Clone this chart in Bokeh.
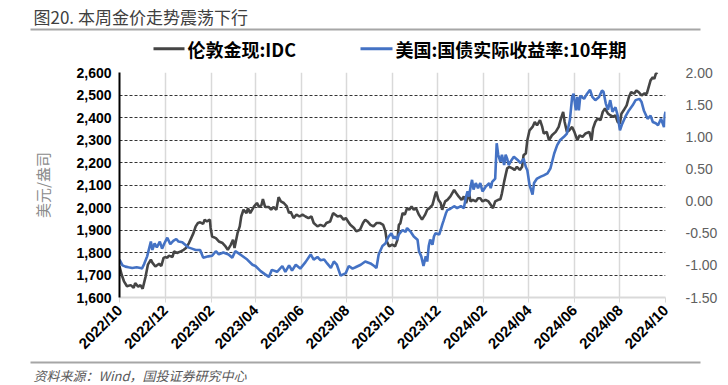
import math
from datetime import datetime
import pandas as pd
from bokeh.plotting import figure
from bokeh.models import (Range1d, LinearAxis, FixedTicker, NumeralTickFormatter, Label,
                          BoxAnnotation, ColumnDataSource)
from bokeh.embed import file_html
from bokeh.resources import INLINE

# ---------------- data ----------------
gold_dates = [
    "2022-10-01","2022-10-04","2022-10-07","2022-10-11","2022-10-16","2022-10-20","2022-10-22","2022-10-26","2022-10-29",
    "2022-11-01","2022-11-05","2022-11-08","2022-11-12","2022-11-14","2022-11-18","2022-11-23","2022-11-26","2022-11-29",
    "2022-12-02","2022-12-04","2022-12-06","2022-12-11","2022-12-13","2022-12-17","2022-12-22","2022-12-26","2022-12-29",
    "2023-01-02","2023-01-05","2023-01-08","2023-01-11","2023-01-14","2023-01-17","2023-01-21","2023-01-23","2023-01-26","2023-01-30","2023-01-31",
    "2023-02-02","2023-02-07","2023-02-11","2023-02-16","2023-02-20","2023-02-23","2023-02-27",
    "2023-03-02","2023-03-04","2023-03-08","2023-03-11","2023-03-13","2023-03-16","2023-03-20","2023-03-22","2023-03-25","2023-03-30",
    "2023-04-03","2023-04-06","2023-04-09","2023-04-11","2023-04-14","2023-04-19","2023-04-22","2023-04-25","2023-04-29",
    "2023-05-02","2023-05-05","2023-05-09","2023-05-13","2023-05-16","2023-05-18","2023-05-22","2023-05-26","2023-05-30",
    "2023-06-03","2023-06-07","2023-06-11","2023-06-15","2023-06-18","2023-06-23","2023-06-27",
    "2023-07-02","2023-07-05","2023-07-10","2023-07-14","2023-07-17","2023-07-20","2023-07-24","2023-07-28","2023-07-31",
    "2023-08-03","2023-08-06","2023-08-11","2023-08-14","2023-08-19","2023-08-23","2023-08-26","2023-08-29",
    "2023-09-02","2023-09-06","2023-09-10","2023-09-15","2023-09-19","2023-09-22","2023-09-24","2023-09-27",
    "2023-10-01","2023-10-05","2023-10-08","2023-10-10","2023-10-12","2023-10-15","2023-10-18","2023-10-21","2023-10-24","2023-10-27","2023-10-30",
    "2023-11-02","2023-11-06","2023-11-10","2023-11-14","2023-11-17","2023-11-20","2023-11-24","2023-11-27","2023-11-29",
    "2023-12-02","2023-12-05","2023-12-07","2023-12-11","2023-12-14","2023-12-18","2023-12-23","2023-12-26","2023-12-29",
    "2024-01-02","2024-01-05","2024-01-08","2024-01-12","2024-01-14","2024-01-17","2024-01-21","2024-01-24","2024-01-27","2024-01-30",
    "2024-02-03","2024-02-07","2024-02-10","2024-02-13","2024-02-16","2024-02-20","2024-02-23","2024-02-25","2024-02-28",
    "2024-03-01","2024-03-03","2024-03-06","2024-03-10","2024-03-13","2024-03-16","2024-03-20","2024-03-23","2024-03-25","2024-03-28","2024-03-30",
    "2024-04-02","2024-04-06","2024-04-09","2024-04-12","2024-04-16","2024-04-19","2024-04-21","2024-04-25","2024-04-28",
    "2024-05-02","2024-05-07","2024-05-11","2024-05-14","2024-05-17","2024-05-19","2024-05-22","2024-05-25","2024-05-29",
    "2024-06-01","2024-06-05","2024-06-08","2024-06-12","2024-06-16","2024-06-21","2024-06-24","2024-06-26","2024-06-29",
    "2024-07-02","2024-07-06","2024-07-09","2024-07-12","2024-07-16","2024-07-19","2024-07-23","2024-07-26","2024-07-29",
    "2024-08-01","2024-08-03","2024-08-06","2024-08-10","2024-08-13","2024-08-16","2024-08-20","2024-08-23","2024-08-26","2024-08-30",
    "2024-09-02","2024-09-06","2024-09-09","2024-09-11","2024-09-14","2024-09-16","2024-09-18","2024-09-20",
]
gold_values = [
    1738,1700,1672,1650,1655,1643,1664,1648,1655,
    1639,1694,1746,1768,1755,1738,1750,1740,1776,
    1780,1776,1786,1780,1805,1798,1805,1812,1820,
    1842,1864,1886,1916,1931,1934,1927,1946,1938,1946,1909,
    1871,1864,1849,1842,1827,1812,1834,
    1857,1820,1886,1916,1960,1990,1975,1997,1975,2004,
    2020,2002,2010,2037,2002,2002,1990,2002,1990,
    2046,2027,2020,2005,1975,1982,1953,1968,1960,
    1968,1960,1953,1960,1931,1916,1923,
    1916,1931,1938,1975,1968,1960,1963,1946,1953,
    1938,1923,1909,1894,1901,1931,1946,1938,
    1923,1916,1931,1931,1923,1894,1849,1827,
    1835,1827,1855,1923,1930,1975,1968,1997,1990,2004,1990,
    1997,1967,1946,1967,1990,1997,2012,2049,2071,
    2034,2020,1990,2027,2034,2049,2078,2063,2049,
    2034,2049,2020,2063,2027,2034,2027,2041,2041,2027,
    2034,2027,2012,1997,2027,2034,2037,2063,2115,
    2145,2174,2181,2174,2167,2181,2167,2181,2233,2240,2299,
    2343,2358,2380,2365,2388,2358,2329,2336,2299,
    2321,2336,2358,2395,2425,2380,2336,2343,2358,
    2336,2299,2321,2314,2329,2336,2299,2351,2380,
    2395,2388,2425,2440,2417,2410,2403,2410,2380,
    2373,2417,2432,2454,2491,2513,2506,2520,2513,2498,
    2506,2506,2542,2565,2579,2572,2594,2601,
]

ry_dates = [
    "2022-10-01","2022-10-05","2022-10-09","2022-10-13","2022-10-18","2022-10-24","2022-10-29","2022-10-31",
    "2022-11-03","2022-11-07","2022-11-12","2022-11-14","2022-11-17","2022-11-20","2022-11-24","2022-11-27","2022-11-30",
    "2022-12-04","2022-12-08","2022-12-12","2022-12-16","2022-12-19","2022-12-24","2022-12-28",
    "2023-01-01","2023-01-06","2023-01-11","2023-01-17","2023-01-21","2023-01-28",
    "2023-02-02","2023-02-07","2023-02-11","2023-02-17","2023-02-24",
    "2023-03-01","2023-03-05","2023-03-09","2023-03-14","2023-03-21","2023-03-28",
    "2023-04-01","2023-04-08","2023-04-14","2023-04-19","2023-04-23","2023-04-30",
    "2023-05-07","2023-05-11","2023-05-16","2023-05-20","2023-05-25","2023-05-31",
    "2023-06-07","2023-06-14","2023-06-18","2023-06-23","2023-06-27",
    "2023-07-02","2023-07-06","2023-07-11","2023-07-15","2023-07-19","2023-07-24","2023-07-31",
    "2023-08-04","2023-08-09","2023-08-13","2023-08-20","2023-08-26",
    "2023-09-02","2023-09-07","2023-09-10","2023-09-13","2023-09-18","2023-09-22","2023-09-26","2023-09-30",
    "2023-10-03","2023-10-05","2023-10-08","2023-10-10","2023-10-15","2023-10-19","2023-10-21","2023-10-26","2023-10-30",
    "2023-11-04","2023-11-06","2023-11-09","2023-11-12","2023-11-15","2023-11-17","2023-11-19","2023-11-21","2023-11-24","2023-11-26","2023-11-28",
    "2023-12-03","2023-12-05","2023-12-07","2023-12-09","2023-12-12","2023-12-14","2023-12-18","2023-12-23","2023-12-27",
    "2024-01-01","2024-01-05","2024-01-08","2024-01-10","2024-01-12","2024-01-14","2024-01-16","2024-01-18","2024-01-21","2024-01-24","2024-01-27","2024-01-30",
    "2024-02-03","2024-02-08","2024-02-10","2024-02-12","2024-02-16","2024-02-18","2024-02-20","2024-02-23","2024-02-25","2024-02-28",
    "2024-03-01","2024-03-03","2024-03-05","2024-03-09","2024-03-12","2024-03-17","2024-03-21","2024-03-25","2024-03-28","2024-03-30",
    "2024-04-02","2024-04-06","2024-04-08","2024-04-12","2024-04-17","2024-04-21","2024-04-26","2024-04-30",
    "2024-05-05","2024-05-09","2024-05-13","2024-05-18","2024-05-22","2024-05-26","2024-05-29","2024-05-31",
    "2024-06-03","2024-06-05","2024-06-07","2024-06-09","2024-06-14","2024-06-18","2024-06-22","2024-06-25","2024-06-29",
    "2024-07-04","2024-07-08","2024-07-10","2024-07-13","2024-07-16","2024-07-19","2024-07-22","2024-07-26","2024-07-29",
    "2024-08-01","2024-08-04","2024-08-09","2024-08-13","2024-08-18","2024-08-22","2024-08-27","2024-08-30",
    "2024-09-02","2024-09-07","2024-09-11","2024-09-14","2024-09-18","2024-09-21","2024-09-25","2024-09-29","2024-09-30",
    "2024-10-01",
]
ry_values = [
    -0.91,-1.00,-1.02,-1.03,-1.04,-1.03,-1.04,-1.05,
    -0.98,-0.86,-0.63,-0.76,-0.66,-0.72,-0.63,-0.74,-0.66,
    -0.57,-0.67,-0.62,-0.59,-0.63,-0.64,-0.68,
    -0.72,-0.74,-0.76,-0.76,-0.88,-0.86,
    -0.85,-0.78,-0.83,-0.80,-0.83,
    -0.88,-0.78,-0.81,-0.85,-0.91,-0.99,
    -1.01,-1.09,-1.14,-1.18,-1.07,-1.10,
    -1.01,-1.10,-1.00,-1.08,-0.99,-1.05,
    -0.95,-0.83,-0.91,-0.87,-0.92,
    -0.91,-0.97,-1.04,-0.94,-0.99,-1.16,-1.12,
    -1.01,-1.05,-1.03,-0.99,-0.94,
    -0.97,-1.01,-1.04,-0.83,-0.70,-0.66,-0.56,-0.50,
    -0.58,-0.55,-0.60,-0.52,-0.45,-0.48,-0.42,-0.48,-0.55,
    -0.60,-0.78,-0.86,-1.01,-0.86,-0.94,-0.70,-0.60,-0.68,-0.55,-0.50,
    -0.52,-0.45,-0.37,-0.30,-0.19,-0.14,-0.12,-0.08,-0.11,
    -0.08,-0.11,0.07,0.15,0.07,0.22,0.33,0.18,0.28,0.20,0.28,0.15,
    0.22,0.28,0.20,0.30,0.35,0.90,0.72,0.61,0.72,0.56,
    0.72,0.66,0.56,0.64,0.69,0.64,0.59,0.66,0.53,0.48,
    0.25,0.10,0.28,0.35,0.38,0.40,0.43,0.51,
    0.74,0.87,0.95,1.00,1.05,1.26,1.62,1.67,
    1.41,1.62,1.41,1.64,1.59,1.67,1.73,1.62,1.57,
    1.62,1.72,1.70,1.52,1.42,1.57,1.39,1.46,1.33,
    1.10,1.20,1.33,1.41,1.49,1.57,1.59,1.54,
    1.41,1.28,1.33,1.23,1.21,1.18,1.28,1.15,1.33,
    1.39,
]

x_tick_labels = ["2022/10", "2022/12", "2023/02", "2023/04", "2023/06", "2023/08", "2023/10",
                 "2023/12", "2024/02", "2024/04", "2024/06", "2024/08", "2024/10"]
left_ticks = [1600, 1700, 1800, 1900, 2000, 2100, 2200, 2300, 2400, 2500, 2600]
right_ticks = [-1.5, -1.0, -0.5, 0.0, 0.5, 1.0, 1.5, 2.0]

series_names = ["伦敦金现:IDC", "美国:国债实际收益率:10年期"]
series_colors = ["#454545", "#4472C4"]
title_text = "图20. 本周金价走势震荡下行"
source_text = "资料来源：Wind，国投证券研究中心"
y_label = "美元/盎司"

CJK = "Noto Sans CJK SC"
NUM = "Liberation Sans"
W = 728


def blank(height):
    f = figure(width=W, height=height, x_range=Range1d(0, W), y_range=Range1d(height, 0),
               output_backend="svg", toolbar_location=None,
               x_axis_location=None, y_axis_location=None, min_border=0)
    f.grid.visible = False
    f.outline_line_color = None
    return f


def rule(f, left, right, top, bottom, color):
    f.add_layout(BoxAnnotation(left=left, right=right, top=top, bottom=bottom,
                               fill_color=color, fill_alpha=1, line_color=None))


# ---------------- header: title, rule, legend ----------------
head = blank(62)
head.add_layout(Label(x=33, y=16, text=title_text, text_font=CJK, text_font_size="17px",
                      text_color="#404040", text_baseline="middle", text_align="left"))
rule(head, 30, 700, 28, 30, "#a6a6a6")
legend_key_x = [(153, 184), (360, 392)]
for (x0, x1), name, color in zip(legend_key_x, series_names, series_colors):
    rule(head, x0, x1, 46.7, 49.7, color)
    head.add_layout(Label(x=x1 + 3, y=48, text=name, text_font=CJK, text_font_size="18px",
                          text_font_style="bold", text_color="black",
                          text_baseline="middle", text_align="left"))

# ---------------- main chart ----------------
p = figure(width=W, height=298, x_axis_type="datetime", output_backend="svg",
           toolbar_location=None,
           x_range=Range1d(datetime(2022, 10, 1), datetime(2024, 10, 1)),
           y_range=Range1d(left_ticks[0], left_ticks[-1]),
           min_border_left=119, min_border_right=63, min_border_top=10, min_border_bottom=62)
p.outline_line_color = None

gold_src = ColumnDataSource(dict(date=pd.to_datetime(gold_dates), val=gold_values))
ry_src = ColumnDataSource(dict(date=pd.to_datetime(ry_dates), val=ry_values))
p.extra_y_ranges = {"ry": Range1d(right_ticks[0], right_ticks[-1])}

p.line("date", "val", source=gold_src, line_color=series_colors[0], line_width=2.6)
p.line("date", "val", source=ry_src, y_range_name="ry", line_color=series_colors[1], line_width=2.6)

x_tick_vals = [pd.Timestamp(l.replace("/", "-") + "-01").value / 1e6 for l in x_tick_labels]
xt = FixedTicker(ticks=x_tick_vals)
xa = p.xaxis[0]
xa.ticker = xt
xa.major_label_overrides = {v: l for v, l in zip(x_tick_vals, x_tick_labels)}
xa.major_label_orientation = math.pi / 4
xa.major_label_text_font = NUM
xa.major_label_text_font_style = "bold"
xa.major_label_text_font_size = "15px"
xa.major_label_text_color = "black"
xa.major_label_standoff = 5
xa.axis_line_color = "#d9d9d9"
xa.axis_line_width = 2
xa.major_tick_line_color = "#d9d9d9"
xa.major_tick_out = 5
xa.major_tick_in = 0
xa.minor_tick_line_color = None

ya = p.yaxis[0]
ya.ticker = FixedTicker(ticks=left_ticks)
ya.formatter = NumeralTickFormatter(format="0,0")
ya.major_label_text_font = NUM
ya.major_label_text_font_style = "bold"
ya.major_label_text_font_size = "14px"
ya.major_label_text_color = "black"
ya.major_label_standoff = 8
ya.axis_line_color = "black"
ya.axis_line_width = 2
ya.major_tick_in = 0
ya.major_tick_out = 0
ya.minor_tick_line_color = None
ya.axis_label = y_label
ya.axis_label_text_font = CJK
ya.axis_label_text_font_style = "normal"
ya.axis_label_text_font_size = "15px"
ya.axis_label_text_color = "#8c8c8c"
ya.axis_label_standoff = 20

ra = LinearAxis(y_range_name="ry", ticker=FixedTicker(ticks=right_ticks),
                formatter=NumeralTickFormatter(format="0.00"))
ra.major_label_text_font = NUM
ra.major_label_text_font_size = "14px"
ra.major_label_text_color = "#606060"
ra.major_label_standoff = 14
ra.axis_line_color = None
ra.major_tick_line_color = None
ra.minor_tick_line_color = None
p.add_layout(ra, "right")

p.xgrid.ticker = xt
p.xgrid.grid_line_color = "#d9d9d9"
p.xgrid.grid_line_width = 1.5
p.ygrid.ticker = FixedTicker(ticks=left_ticks)
p.ygrid.grid_line_color = "#333333"
p.ygrid.grid_line_dash = "3 2"
p.ygrid.grid_line_width = 1

# ---------------- footer: rule and source ----------------
foot = blank(25)
rule(foot, 30, 700, 1, 3, "#a6a6a6")
foot.add_layout(Label(x=33, y=15, text=source_text, text_font=CJK, text_font_size="13px",
                      text_font_style="italic", text_color="#595959",
                      text_baseline="middle", text_align="left"))

open("out.html", "w").write(file_html([head, p, foot], INLINE))
